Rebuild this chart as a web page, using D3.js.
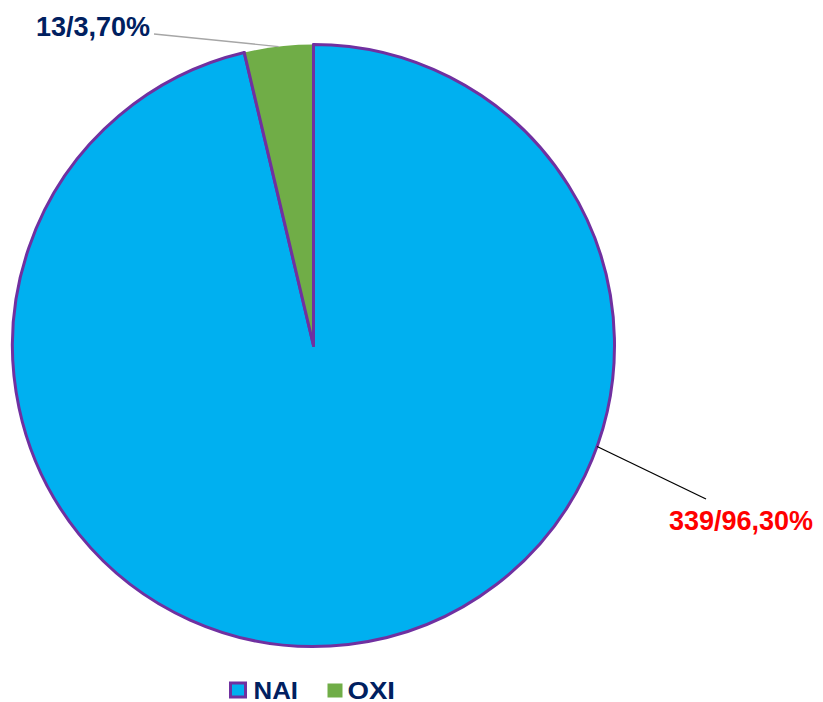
<!DOCTYPE html>
<html>
<head>
<meta charset="utf-8">
<script src="https://cdn.jsdelivr.net/npm/d3@7"></script>
<style>
  html, body { margin: 0; padding: 0; background: #fff; }
  svg { display: block; }
  text { font-family: Arial, "Liberation Sans", sans-serif; font-weight: bold; }
</style>
</head>
<body>
<svg id="chart" width="823" height="702"></svg>
<script>
const categories = ["NAI", "OXI"];
const counts = [339, 13];
const percentLabels = ["96,30%", "3,70%"];
const colors = ["#00B0F0", "#70AD47"];
const labelColors = ["#FF0000", "#002060"];

const W = 823, H = 702;
const cx = 313.5, cy = 345.5, R = 301;

const svg = d3.select("#chart");
const g = svg.append("g").attr("transform", `translate(${cx},${cy})`);

const pie = d3.pie().sort(null).value(d => d.value).startAngle(0).endAngle(2 * Math.PI);
const data = categories.map((c, i) => ({ cat: c, value: counts[i], pct: percentLabels[i], color: colors[i], lc: labelColors[i] }));
const arcs = pie(data);
const arc = d3.arc().innerRadius(0).outerRadius(R);

// NAI slice with purple border
g.append("path")
  .attr("d", arc(arcs[0]))
  .attr("fill", arcs[0].data.color)
  .attr("stroke", "#7030A0")
  .attr("stroke-width", 3)
  .attr("stroke-linejoin", "round");
// OXI slice, no border of its own
g.append("path")
  .attr("d", arc(arcs[1]))
  .attr("fill", arcs[1].data.color)
  .attr("stroke", "none");
// radial separators of OXI (purple from NAI border)
[arcs[1].startAngle, arcs[1].endAngle].forEach(a => {
  g.append("line")
    .attr("x1", 0).attr("y1", 0)
    .attr("x2", R * Math.sin(a)).attr("y2", -R * Math.cos(a))
    .attr("stroke", "#7030A0").attr("stroke-width", 3).attr("stroke-linecap", "round");
});

// labels with leader lines (angle in degrees where the leader touches the pie)
const labelLayout = [
  { angle: 109.6, end: [392.5, 153.5], tx: 355.5, ty: 184.5, anchor: "start", line: "#000000" },
  { angle: null, end: [-159.5, -311.5], tx: -163.5, ty: -309.5, anchor: "end", line: "#A6A6A6" }
];
arcs.forEach((d, i) => {
  const L = labelLayout[i];
  const a = L.angle === null ? (d.startAngle + d.endAngle) / 2 : L.angle * Math.PI / 180;
  const sx = R * Math.sin(a), sy = -R * Math.cos(a);
  g.append("line")
    .attr("x1", sx).attr("y1", sy)
    .attr("x2", L.end[0]).attr("y2", L.end[1])
    .attr("stroke", L.line).attr("stroke-width", 1.3);
  g.append("text")
    .attr("x", L.tx).attr("y", L.ty)
    .attr("text-anchor", L.anchor)
    .attr("fill", d.data.lc)
    .attr("font-size", 27)
    .text(d.data.value + "/" + d.data.pct);
});

// legend
const legend = svg.append("g");
const lg = [
  { x: 229, y: 681.5, w: 18, h: 17, tx: 253.5, tw: 44.5 },
  { x: 327.5, y: 683.5, w: 15, h: 14, tx: 347.5, tw: 47.5 }
];
data.forEach((d, i) => {
  const L = lg[i];
  if (d.cat === "NAI") {
    legend.append("rect").attr("x", L.x + 1.5).attr("y", L.y + 1.5).attr("width", L.w - 3).attr("height", L.h - 3)
      .attr("fill", d.color).attr("stroke", "#7030A0").attr("stroke-width", 3);
  } else {
    legend.append("rect").attr("x", L.x).attr("y", L.y).attr("width", L.w).attr("height", L.h)
      .attr("fill", d.color);
  }
  legend.append("text")
    .attr("x", L.tx).attr("y", 698.5)
    .attr("fill", "#002060")
    .attr("font-size", 23)
    .attr("textLength", L.tw)
    .attr("lengthAdjust", "spacingAndGlyphs")
    .text(d.cat);
});
</script>
</body>
</html>
